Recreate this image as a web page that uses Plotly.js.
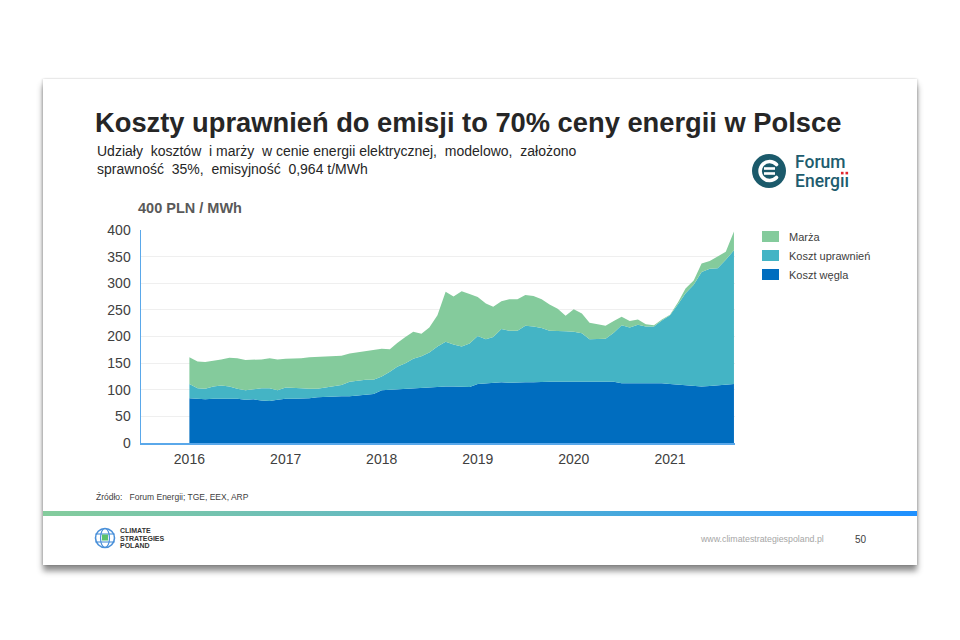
<!DOCTYPE html>
<html>
<head>
<meta charset="utf-8">
<script src="https://cdn.plot.ly/plotly-3.0.1.min.js"></script>
<style>
  html, body { margin: 0; padding: 0; background: #ffffff; width: 960px; height: 640px; overflow: hidden; }
  #card { position: absolute; left: 43px; top: 79px; width: 874px; height: 486px; background: #ffffff;
          box-shadow: 0 6px 6px rgba(0,0,0,0.45), 1px 0 2px rgba(0,0,0,0.12), -1px 0 2px rgba(0,0,0,0.12); z-index: 0; }
  #plot { position: absolute; left: 0; top: 0; width: 960px; height: 640px; z-index: 1; }
  #bar { position: absolute; left: 43px; top: 511px; width: 874px; height: 5px; z-index: 2;
         background: linear-gradient(to right, #84cc9c 0%, #5fb7c8 45%, #1e90ff 100%); }
  .logo { position: absolute; z-index: 2; }
</style>
</head>
<body>
<div id="card"></div>
<div id="plot"></div>
<div id="bar"></div>
<svg class="logo" id="felogo" style="left:748px;top:150px" width="120" height="45" viewBox="0 0 120 45">
  <circle cx="21" cy="21" r="17" fill="#1b5a6b"/>
  <path d="M28.5,14.5 A9.5,9.5 0 1 0 28.5,27.5" fill="none" stroke="#ffffff" stroke-width="3.6" stroke-linecap="round"/>
  <rect x="16" y="17.2" width="11" height="2.6" fill="#ffffff"/>
  <rect x="16" y="22.2" width="11" height="2.6" fill="#ffffff"/>
  <text id="fetext" font-family="Roboto, 'Liberation Sans', sans-serif" font-size="17.5" font-weight="500" fill="#1e5c6e"><tspan x="47" y="17.5">Forum</tspan><tspan x="47" y="36.5">Energ<tspan id="feii">ıı</tspan></tspan></text>
</svg>
<svg class="logo" style="left:93px;top:526px" width="80" height="26" viewBox="0 0 80 26">
  <circle cx="12" cy="12" r="9.5" fill="none" stroke="#4a90d9" stroke-width="1.6"/>
  <ellipse cx="12" cy="12" rx="4.5" ry="9.5" fill="none" stroke="#4a90d9" stroke-width="1.2"/>
  <line x1="2.5" y1="8" x2="21.5" y2="8" stroke="#4a90d9" stroke-width="1.1"/>
  <line x1="2.5" y1="16" x2="21.5" y2="16" stroke="#4a90d9" stroke-width="1.1"/>
  <rect x="9" y="8.5" width="6" height="6" fill="#5cc16b"/>
  <text font-family="'Liberation Sans', Arial, sans-serif" font-size="7" font-weight="bold" fill="#333333"><tspan x="27" y="7">CLIMATE</tspan><tspan x="27" y="14.5">STRATEGIES</tspan><tspan x="27" y="22">POLAND</tspan></text>
</svg>
<script>
// ---- data (PLN / MWh, monthly, Jan 2016 - Sep 2021) ----
const months = [
  '2016-01','2016-02','2016-03','2016-04','2016-05','2016-06','2016-07','2016-08','2016-09','2016-10','2016-11','2016-12',
  '2017-01','2017-02','2017-03','2017-04','2017-05','2017-06','2017-07','2017-08','2017-09','2017-10','2017-11','2017-12',
  '2018-01','2018-02','2018-03','2018-04','2018-05','2018-06','2018-07','2018-08','2018-09','2018-10','2018-11','2018-12',
  '2019-01','2019-02','2019-03','2019-04','2019-05','2019-06','2019-07','2019-08','2019-09','2019-10','2019-11','2019-12',
  '2020-01','2020-02','2020-03','2020-04','2020-05','2020-06','2020-07','2020-08','2020-09','2020-10','2020-11','2020-12',
  '2021-01','2021-02','2021-03','2021-04','2021-05','2021-06','2021-07','2021-08','2021-09'
];
const kosztWegla = [
  84,83,82,83,83,83,83,81,82,80,79,81,
  83,83,83,84,86,87,87,88,88,89,90,92,
  99,100,101,102,102,103,105,106,106,106,106,105,
  111,112,113,114,113,114,114,114,115,115,115,115,
  115,115,115,115,115,115,112,112,112,113,113,112,
  111,110,109,108,106,107,108,109,111
];
const kosztUprawnien = [
  27,20,20,23,25,23,19,18,19,23,24,18,
  21,21,20,18,16,17,20,21,27,28,29,27,
  26,34,42,48,56,60,65,75,84,79,75,82,
  90,83,86,100,98,97,106,105,101,96,96,95,
  94,91,80,81,81,92,109,105,110,106,106,118,
  129,151,172,189,215,220,220,235,251
];
const marza = [
  50,50,50,48,49,54,57,57,55,54,56,58,
  54,54,56,59,60,59,56,55,53,53,53,56,
  52,42,45,49,51,42,47,59,94,90,104,93,
  73,67,57,52,59,59,58,57,54,49,41,29,
  42,37,31,27,24,22,16,12,10,4,2,2,
  1,4,9,8,16,15,22,15,35
];
const seriesNames = ['Koszt węgla', 'Koszt uprawnień', 'Marża'];
const seriesColors = ['#006dbf', '#44b4c5', '#84cb9c'];
const yearTicks = ['2016-01-01','2017-01-01','2018-01-01','2019-01-01','2020-01-01','2021-01-01'];
const yearLabels = ['2016','2017','2018','2019','2020','2021'];

// ---- layout geometry (pixels) ----
const L = 141, R = 735, T = 230, B = 443;
const W = 960, H = 640;
const px = x => (x - L) / (R - L);
const py = y => (B - y) / (B - T);
const FONT = "'Liberation Sans', Arial, sans-serif";

const series = [kosztWegla, kosztUprawnien, marza];
const traces = series.map((vals, i) => ({
  type: 'scatter',
  mode: 'lines',
  x: months,
  y: vals,
  name: seriesNames[i],
  stackgroup: 'one',
  line: { width: 0, color: seriesColors[i] },
  fillcolor: seriesColors[i],
  hoverinfo: 'x+y+name'
}));

const layout = {
  width: W, height: H,
  margin: { l: L, r: W - R, t: T, b: H - B, pad: 0 },
  paper_bgcolor: 'rgba(0,0,0,0)',
  plot_bgcolor: 'rgba(0,0,0,0)',
  font: { family: FONT, color: '#404040' },
  title: {
    text: '<b>Koszty uprawnień do emisji to 70% ceny energii w Polsce</b>',
    xref: 'container', yref: 'container',
    x: 95 / W, xanchor: 'left',
    y: 1 - 122 / H, yanchor: 'middle',
    font: { family: FONT, size: 27.3, color: '#262626' }
  },
  xaxis: {
    type: 'date',
    range: ['2015-07-01', '2021-09-05'],
    tickmode: 'array',
    tickvals: yearTicks,
    ticktext: yearLabels,
    tickfont: { family: FONT, size: 14, color: '#404040' },
    showgrid: false,
    zeroline: false,
    showline: true,
    linecolor: '#5aa8ea',
    linewidth: 1.5,
    ticks: '',
    ticklabelstandoff: 3,
    fixedrange: true
  },
  yaxis: {
    range: [0, 400],
    dtick: 50,
    tickfont: { family: FONT, size: 14, color: '#404040' },
    showgrid: true,
    gridcolor: '#efefef',
    gridwidth: 1,
    zeroline: false,
    showline: true,
    linecolor: '#5aa8ea',
    linewidth: 1.5,
    ticks: '',
    ticklabelstandoff: 6,
    fixedrange: true
  },
  showlegend: true,
  legend: {
    x: px(749), xanchor: 'left',
    y: py(222), yanchor: 'top',
    traceorder: 'reversed',
    font: { family: FONT, size: 11, color: '#404040' },
    bgcolor: 'rgba(0,0,0,0)',
    itemwidth: 30,
    tracegroupgap: 0
  },
  annotations: [
    {
      text: 'Udziały  kosztów  i marży  w cenie energii elektrycznej,  modelowo,  założono<br>sprawność  35%,  emisyjność  0,964 t/MWh',
      xref: 'paper', yref: 'paper', x: px(95), y: py(141), xanchor: 'left', yanchor: 'top',
      align: 'left', showarrow: false,
      font: { family: FONT, size: 14, color: '#262626' }
    },
    {
      text: '<b>400 PLN / MWh</b>',
      xref: 'paper', yref: 'paper', x: px(136), y: py(208), xanchor: 'left', yanchor: 'middle',
      showarrow: false,
      font: { family: FONT, size: 14.5, color: '#595959' }
    },
    {
      text: 'Źródło:   Forum Energii; TGE, EEX, ARP',
      xref: 'paper', yref: 'paper', x: px(94), y: py(497), xanchor: 'left', yanchor: 'middle',
      showarrow: false,
      font: { family: FONT, size: 8.5, color: '#404040' }
    },
    {
      text: 'www.climatestrategiespoland.pl',
      xref: 'paper', yref: 'paper', x: px(826), y: py(539), xanchor: 'right', yanchor: 'middle',
      showarrow: false,
      font: { family: FONT, size: 8.8, color: '#a6a6a6' }
    },
    {
      text: '50',
      xref: 'paper', yref: 'paper', x: px(861), y: py(539), xanchor: 'center', yanchor: 'middle',
      showarrow: false,
      font: { family: FONT, size: 10, color: '#404040' }
    }
  ]
};

Plotly.newPlot('plot', traces, layout, { displayModeBar: false, staticPlot: true }).then(gd => {
  // square legend swatches like the original
  gd.querySelectorAll('.legend path.js-fill').forEach(p => {
    p.setAttribute('d', 'M13,-5.5h17v11h-17z');
  });
  gd.querySelectorAll('.legend path.js-line').forEach(p => p.style.display = 'none');
  // red dots over "ii" in the Forum Energii logo
  try {
    const t = document.getElementById('fetext');
    const svg = document.getElementById('felogo');
    const n = t.getNumberOfChars();
    [n - 2, n - 1].forEach(k => {
      const s = t.getStartPositionOfChar(k).x;
      const e = t.getEndPositionOfChar(k).x;
      const r = document.createElementNS('http://www.w3.org/2000/svg', 'rect');
      const c = (s + e) / 2;
      r.setAttribute('x', (c - 1.3).toFixed(2));
      r.setAttribute('y', '21.8');
      r.setAttribute('width', '2.6');
      r.setAttribute('height', '2.6');
      r.setAttribute('fill', '#e3262d');
      svg.appendChild(r);
    });
  } catch (e) {}
});
</script>
</body>
</html>
